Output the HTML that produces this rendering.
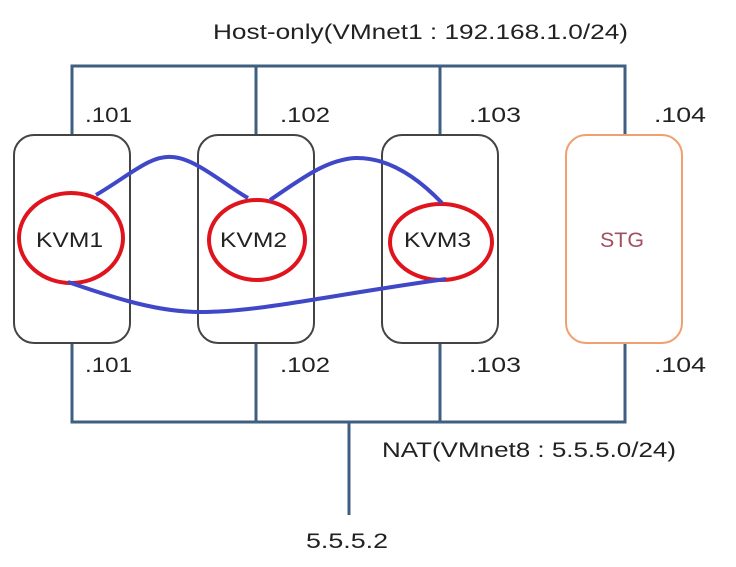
<!DOCTYPE html>
<html><head><style>
body{margin:0;background:#fff;}
svg text{font-family:"Liberation Sans","Noto Sans CJK KR",sans-serif;fill:#222;}
</style></head><body>
<svg width="736" height="562" xmlns="http://www.w3.org/2000/svg">
<g stroke="#3f5f82" stroke-width="3" fill="none">
<polyline points="72,135 72,66 625,66 625,135"/>
<line x1="256" y1="66" x2="256" y2="135"/>
<line x1="440" y1="66" x2="440" y2="135"/>
<polyline points="72,343 72,422 625,422 625,343"/>
<line x1="256" y1="343" x2="256" y2="422"/>
<line x1="440" y1="343" x2="440" y2="422"/>
<line x1="349" y1="422" x2="349" y2="515"/>
</g>
<g fill="#fff" stroke-width="2">
<rect x="14" y="135" width="116" height="208" rx="20" stroke="#444"/>
<rect x="198" y="135" width="116" height="208" rx="20" stroke="#444"/>
<rect x="382" y="135" width="116" height="208" rx="20" stroke="#444"/>
<rect x="566" y="135" width="116" height="208" rx="20" stroke="#f0a070"/>
</g>
<g font-size="21">
<text x="213" y="39" textLength="415" lengthAdjust="spacingAndGlyphs">Host-only(VMnet1 : 192.168.1.0/24)</text>
<text x="85" y="122" textLength="47" lengthAdjust="spacingAndGlyphs">.101</text><text x="280" y="122" textLength="50" lengthAdjust="spacingAndGlyphs">.102</text><text x="469" y="122" textLength="52" lengthAdjust="spacingAndGlyphs">.103</text><text x="654" y="122" textLength="52" lengthAdjust="spacingAndGlyphs">.104</text>
<text x="85" y="372" textLength="47" lengthAdjust="spacingAndGlyphs">.101</text><text x="280" y="372" textLength="50" lengthAdjust="spacingAndGlyphs">.102</text><text x="469" y="372" textLength="52" lengthAdjust="spacingAndGlyphs">.103</text><text x="654" y="372" textLength="52" lengthAdjust="spacingAndGlyphs">.104</text>
<text x="382" y="457" textLength="294" lengthAdjust="spacingAndGlyphs">NAT(VMnet8 : 5.5.5.0/24)</text>
<text x="306" y="548" textLength="82" lengthAdjust="spacingAndGlyphs">5.5.5.2</text>
<text x="36" y="247" textLength="67" lengthAdjust="spacingAndGlyphs">KVM1</text><text x="220" y="247" textLength="67" lengthAdjust="spacingAndGlyphs">KVM2</text><text x="404" y="247" textLength="67" lengthAdjust="spacingAndGlyphs">KVM3</text>
<text x="600" y="247" textLength="44" lengthAdjust="spacingAndGlyphs" style="fill:#a05060">STG</text>
</g>
<g fill="none" stroke="#e0141c" stroke-width="4">
<ellipse cx="71" cy="238" rx="52" ry="45"/>
<ellipse cx="257" cy="240" rx="48" ry="40"/>
<ellipse cx="441" cy="242" rx="51" ry="38"/>
</g>
<g fill="none" stroke="#4048c8" stroke-width="4">
<path d="M96,195 C130,175 150,155 172,157 C195,158 225,185 248,198"/>
<path d="M270,200 C300,180 325,160 355,158 C390,157 420,180 442,203"/>
<path d="M68,282 C120,300 160,312 200,312 C260,312 330,295 446,279"/>
</g>
</svg>
</body></html>
